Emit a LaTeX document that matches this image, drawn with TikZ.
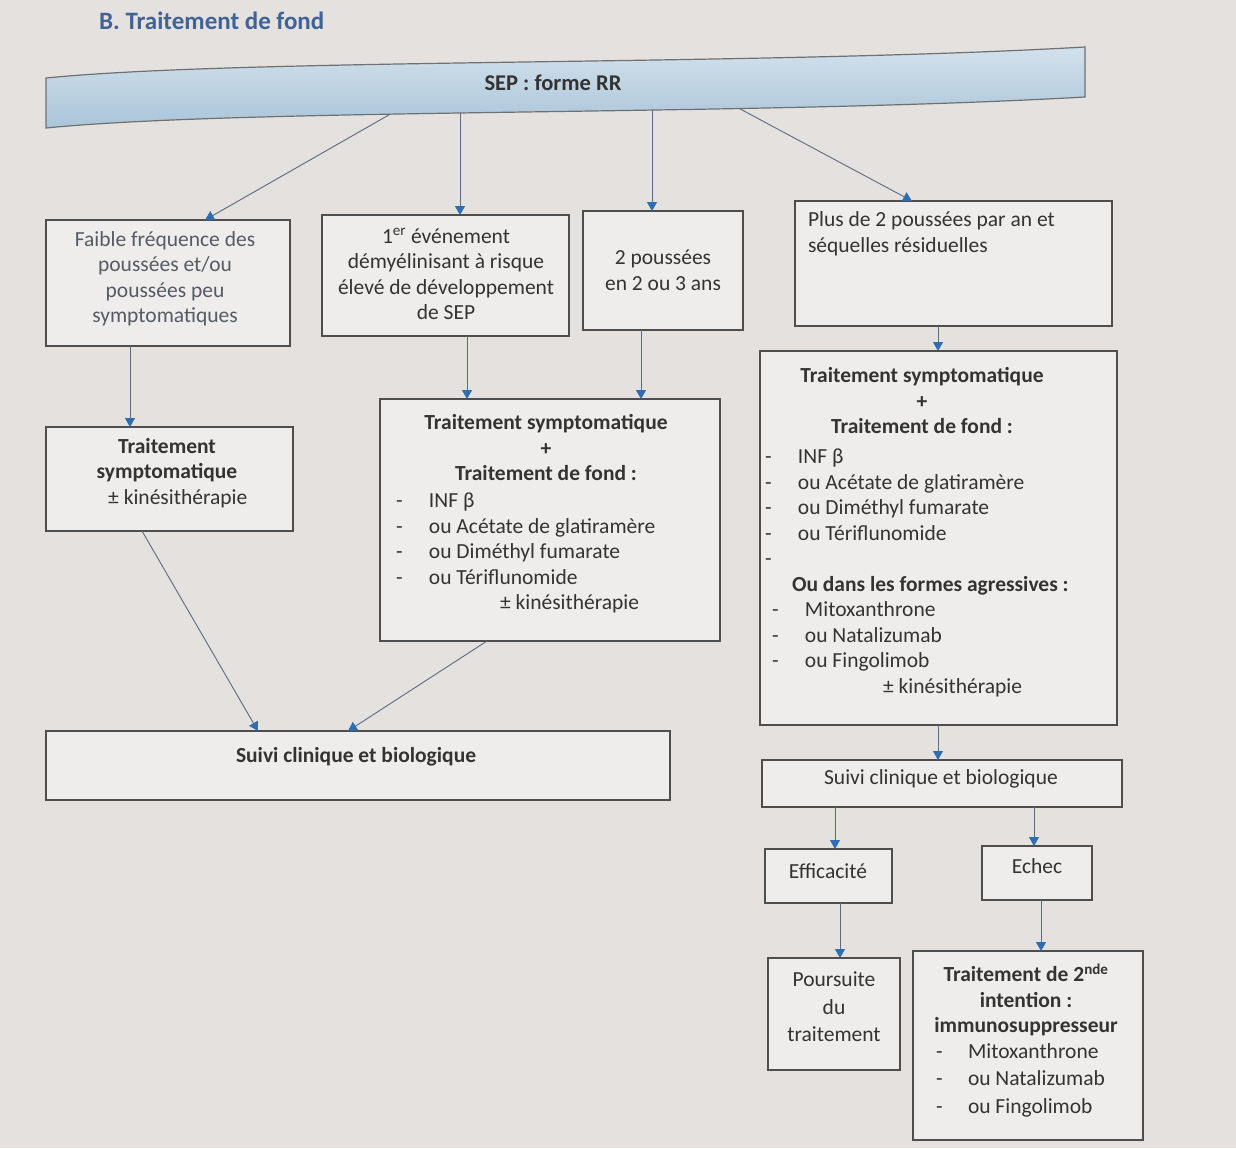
\documentclass[tikz,border=0pt]{standalone}
\usepackage{fontspec}
\setmainfont{Carlito}
\usetikzlibrary{arrows.meta}
\definecolor{pagebg}{HTML}{E4E1DE}
\definecolor{boxfill}{HTML}{EFEDEB}
\definecolor{boxline}{HTML}{4E4E4E}
\definecolor{arrline}{HTML}{5A6C82}
\definecolor{arrblue}{HTML}{2F6DB2}
\definecolor{textc}{HTML}{333333}
\definecolor{textl}{HTML}{545A66}
\definecolor{titlec}{HTML}{3F6396}
\definecolor{bantop}{HTML}{D3E1EB}
\definecolor{banbot}{HTML}{A9C4D9}
\definecolor{banline}{HTML}{6E7072}
\newcommand{\dsh}{\makebox[33pt][l]{-}}
\newcommand{\dshb}{\makebox[32pt][l]{-}}
\tikzset{
  box/.style={draw=boxline, line width=1.3pt, fill=boxfill, inner sep=0pt, outer sep=0pt, anchor=north west},
  txt/.style={inner sep=0pt, outer sep=0pt, text=textc, font=\fontsize{21.5}{25.5}\selectfont, align=center},
  arr/.style={draw=arrline, line width=0.9pt, -{Triangle[width=10pt,length=9pt,color=arrblue]}}
}
\begin{document}
\begin{tikzpicture}[x=1pt,y=-1pt]
\useasboundingbox (0,0) rectangle (1236,1148);
\fill[pagebg] (0,0) rectangle (1236,1148);

% title
\node[anchor=west, inner sep=0pt, font=\fontsize{25}{29}\selectfont\bfseries, text=titlec] (title) at (99,21) {B. Traitement de fond};

% banner connector origins
\coordinate (sA) at (394,112);
\coordinate (sB) at (460,108);
\coordinate (sC) at (652,104);
\coordinate (sD) at (729,103);

% boxes
\node[box, minimum width=244pt, minimum height=126pt] (b1) at (46,220) {};
\node[box, minimum width=247pt, minimum height=121pt] (b2) at (322,215) {};
\node[box, minimum width=160pt, minimum height=119pt] (b3) at (583,211) {};
\node[box, minimum width=317pt, minimum height=125pt] (b4) at (795,201) {};
\node[box, minimum width=247pt, minimum height=104pt] (b5) at (46,427) {};
\node[box, minimum width=340pt, minimum height=242pt] (b6) at (380,399) {};
\node[box, minimum width=357pt, minimum height=374pt] (b7) at (760,351) {};
\node[box, minimum width=624pt, minimum height=69pt] (b8) at (46,731) {};
\node[box, minimum width=360pt, minimum height=47pt] (b9) at (762,760) {};
\node[box, minimum width=127pt, minimum height=54pt] (b10) at (765,849) {};
\node[box, minimum width=110pt, minimum height=54pt] (b11) at (982,846) {};
\node[box, minimum width=132pt, minimum height=112pt] (b12) at (768,958) {};
\node[box, minimum width=230pt, minimum height=189pt] (b13) at (913,951) {};

% arrows from banner (drawn before banner)
\draw[arr] (sA) -- ([xshift=159pt]b1.north west);
\draw[arr] (sB) -- ([xshift=138pt]b2.north west);
\draw[arr] (sC) -- ([xshift=69pt]b3.north west);
\draw[arr] (sD) -- ([xshift=117pt]b4.north west);

% banner
\draw[draw=banline, line width=1.2pt, top color=bantop, bottom color=banbot]
  (46,78) .. controls (250,58) and (750,66) .. (1085,47) -- (1085,97)
  .. controls (750,116) and (250,108) .. (46,128) -- cycle;
\node[txt, font=\fontsize{22.5}{26}\selectfont] (sep) at (553,83) {\textbf{SEP : forme RR}};

% texts
\node[txt, text=textl] (t1) at (165,279) {Faible fréquence des\\poussées et/ou\\poussées peu\\symptomatiques};
\node[txt] (t2) at (446,274) {1\textsuperscript{er} événement\\démyélinisant à risque\\élevé de développement\\de SEP};
\node[txt] (t3) at (663,270) {2 poussées\\en 2 ou 3 ans};
\node[txt, align=left, anchor=west] (t4) at (808,234) {Plus de 2 poussées par an et\\séquelles résiduelles};
\node[txt] (t5) at (167,473) {\textbf{Traitement}\\\textbf{symptomatique}\\\hspace*{1em}± kinésithérapie};
\node[txt] (t6h) at (546,448) {\textbf{Traitement symptomatique}\\\textbf{+}\\\textbf{Traitement de fond :}};
\node[txt, align=left, anchor=west] (t6l) at (396,553) {\dsh INF β\\\dsh ou Acétate de glatiramère\\\dsh ou Diméthyl fumarate\\\dsh ou Tériflunomide\\\hspace*{104pt}± kinésithérapie};
\node[txt] (t7h) at (922,401) {\textbf{Traitement symptomatique}\\\textbf{+}\\\textbf{Traitement de fond :}};
\node[txt, align=left, anchor=west] (t7l) at (765,573) {\dsh INF β\\\dsh ou Acétate de glatiramère\\\dsh ou Diméthyl fumarate\\\dsh ou Tériflunomide\\-\\\hspace*{27pt}\textbf{Ou dans les formes agressives :}\\\hspace*{7pt}\dsh Mitoxanthrone\\\hspace*{7pt}\dsh ou Natalizumab\\\hspace*{7pt}\dsh ou Fingolimob\\\hspace*{118pt}± kinésithérapie};
\node[txt] (t8) at (356,757) {\textbf{Suivi clinique et biologique}};
\node[txt] (t9) at (941,779) {Suivi clinique et biologique};
\node[txt] (t10) at (828,871) {Efficacité};
\node[txt] (t11) at (1037,866) {Echec};
\node[txt] (t12) at (834,1007) {Poursuite\\[2pt]du\\[2pt]traitement};
\node[txt] (t13h) at (1026,1000) {\textbf{Traitement de 2\textsuperscript{nde}}\\\textbf{intention :}\\\textbf{immunosuppresseur}};
\node[txt, align=left, anchor=west] (t13l) at (936,1080) {\dshb Mitoxanthrone\\[2pt]\dshb ou Natalizumab\\[2pt]\dshb ou Fingolimob};

% other arrows
\draw[arr] ([xshift=84pt]b1.south west) -- ([xshift=84pt]b5.north west);
\draw[arr] ([xshift=145pt]b2.south west) -- ([xshift=87pt]b6.north west);
\draw[arr] ([xshift=58pt]b3.south west) -- ([xshift=261pt]b6.north west);
\draw[arr] ([xshift=143pt]b4.south west) -- ([xshift=178pt]b7.north west);
\draw[arr] ([xshift=96pt]b5.south west) -- ([xshift=212pt]b8.north west);
\draw[arr] ([xshift=107pt]b6.south west) -- ([xshift=302pt]b8.north west);
\draw[arr] ([xshift=178pt]b7.south west) -- ([xshift=176pt]b9.north west);
\draw[arr] ([xshift=73pt]b9.south west) -- ([xshift=70pt]b10.north west);
\draw[arr] ([xshift=272pt]b9.south west) -- ([xshift=52pt]b11.north west);
\draw[arr] ([xshift=75pt]b10.south west) -- ([xshift=72pt]b12.north west);
\draw[arr] ([xshift=59pt]b11.south west) -- ([xshift=128pt]b13.north west);
\end{tikzpicture}
\end{document}
